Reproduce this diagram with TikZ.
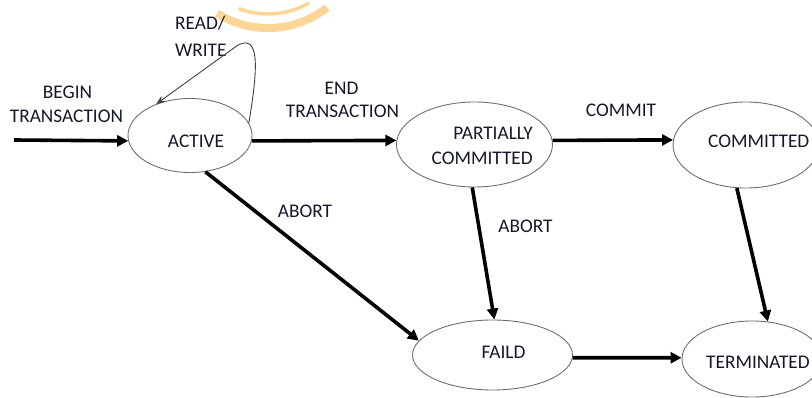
\documentclass[tikz,border=0pt]{standalone}
\usepackage{fontspec}
\setmainfont{Carlito}
\usetikzlibrary{arrows.meta,shapes.geometric}
\definecolor{inkblue}{RGB}{20,24,40}
\definecolor{ringgray}{RGB}{110,110,110}
\definecolor{markorange}{RGB}{251,214,150}
\tikzset{
  state/.style={draw=ringgray,line width=0.9pt,ellipse,inner sep=0pt},
  lbl/.style={font=\fontsize{19.3}{21}\selectfont,text=inkblue,inner sep=0pt,anchor=base},
  trans/.style={line width=3.6pt,-{Triangle[length=11pt,width=11pt]}},
  selfloop/.style={draw=black!75,line width=0.9pt,-{Stealth[length=9pt,width=7pt]}},
}
\begin{document}
\begin{tikzpicture}[x=1pt,y=-1pt]
\useasboundingbox (0,0) rectangle (812,398);
% faint emblem arcs along the top edge
\begin{scope}
\clip (0,0) rectangle (812,398);
\draw[markorange,line width=8pt] (268,-68) ++(52:96) arc[start angle=52,end angle=122,radius=96];
\draw[markorange,line width=3.5pt] (268,-68) ++(60:82) arc[start angle=60,end angle=111,radius=82];
\end{scope}

% states
\node[state,minimum width=124pt,minimum height=74pt] (act) at (190,135.5) {};
\node[state,minimum width=156pt,minimum height=85pt] (pc) at (474.5,144.5) {};
\node[state,minimum width=146pt,minimum height=86pt] (cm) at (746,145) {};
\node[state,minimum width=160pt,minimum height=70pt] (fd) at (492.5,355) {};
\node[state,minimum width=140pt,minimum height=76pt] (tm) at (752,359) {};

% state names
\node[lbl] (tact) at (196,148) {ACTIVE};
\node[lbl,anchor=base east] (tpc1) at (533,140) {PARTIALLY};
\node[lbl,anchor=base east] (tpc2) at (533,165) {COMMITTED};
\node[lbl,anchor=base west] (tcm) at (708,148) {COMMITTED};
\node[lbl] (tfd) at (503.5,359) {FAILD};
\node[lbl,anchor=base west] (ttm) at (706,368) {TERMINATED};

% transition labels
\node[lbl] (lb1) at (67.5,99) {BEGIN};
\node[lbl] (lb2) at (66.5,123) {TRANSACTION};
\node[lbl,anchor=base west] (lrw1) at (175,30) {READ/};
\node[lbl,anchor=base west] (lrw2) at (175,57) {WRITE};
\node[lbl] (le1) at (341.5,95) {END};
\node[lbl] (le2) at (342.5,118) {TRANSACTION};
\node[lbl] (lcm) at (621,117) {COMMIT};
\node[lbl] (la1) at (305,218) {ABORT};
\node[lbl] (la2) at (525.5,233) {ABORT};

% transitions
\coordinate (start) at (14,140);
\draw[trans] (start) -- (act.185);
\draw[trans] (act.-5) -- (pc.177);
\draw[trans] (pc.3) -- (cm.176);
\draw[trans] (act.-67) -- (fd.169);
\draw[trans] (pc.-93) -- (fd.87);
\draw[trans] (cm.-102) -- (tm.67);
\draw[trans] (fd.-2) -- (tm.179);
\draw[selfloop] (act.12) .. controls (258,68) and (260,34) .. (238,45) -- (act.137);
\end{tikzpicture}
\end{document}
